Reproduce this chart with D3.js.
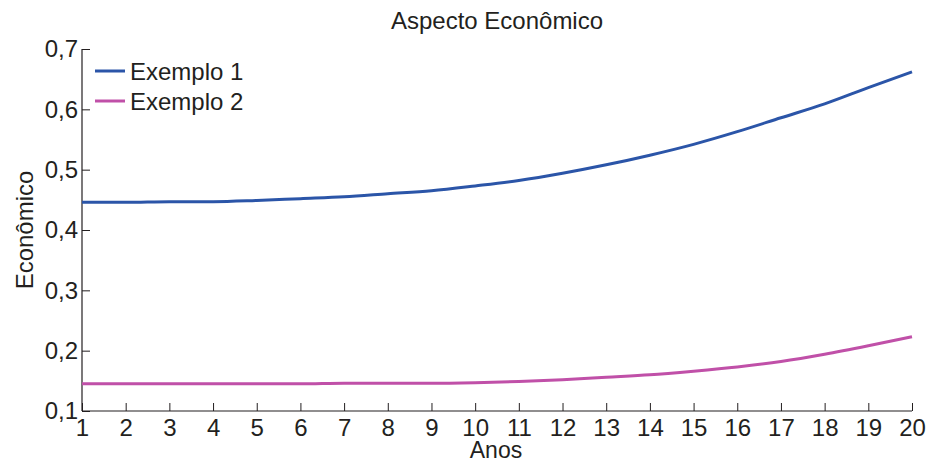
<!DOCTYPE html>
<html><head><meta charset="utf-8">
<script src="https://cdn.jsdelivr.net/npm/d3@7"></script>
<style>body{margin:0;background:#fff}svg{display:block}text{font-family:"Liberation Sans",Arial,sans-serif;fill:#231f20}</style>
</head><body><svg id="c" width="928" height="463"></svg>
<script>
const anos = [1,2,3,4,5,6,7,8,9,10,11,12,13,14,15,16,17,18,19,20];
const exemplo1 = [0.446,0.446,0.447,0.447,0.449,0.452,0.455,0.460,0.465,0.473,0.482,0.494,0.508,0.524,0.542,0.563,0.586,0.609,0.636,0.662];
const exemplo2 = [0.145,0.145,0.145,0.145,0.145,0.145,0.146,0.146,0.146,0.147,0.149,0.152,0.156,0.160,0.166,0.173,0.182,0.194,0.208,0.223];
const yTicks = [0.1,0.2,0.3,0.4,0.5,0.6,0.7];
const seriesNames = ["Exemplo 1","Exemplo 2"];
const colors = ["#2b55a8","#c050a8"];

const svg = d3.select("#c");
const x = d3.scaleLinear().domain([1,20]).range([82,912]);
const y = d3.scaleLinear().domain([0.1,0.7]).range([411,49]);
const fmt = d => d.toFixed(1).replace(".", ",");

const xa = svg.append("g").attr("transform","translate(0,411)")
  .call(d3.axisBottom(x).tickValues(anos).tickSize(-8).tickPadding(8).tickFormat(d3.format("d")));
const ya = svg.append("g").attr("transform","translate(82,0)")
  .call(d3.axisLeft(y).tickValues(yTicks).tickSize(-8).tickPadding(4).tickFormat(fmt));
[xa,ya].forEach(a=>{
  a.selectAll("path.domain").attr("stroke","#231f20").attr("stroke-width",1.2);
  a.selectAll(".tick line").attr("stroke","#231f20").attr("stroke-width",1);
  a.selectAll("text").attr("font-size",24).attr("font-family","Liberation Sans, Arial, sans-serif").attr("fill","#231f20");
});
xa.selectAll(".domain").attr("d","M82,0H912");
ya.selectAll(".domain").attr("d","M0,411V49");

const line = d3.line().x((d,i)=>x(anos[i])).y(d=>y(d)).curve(d3.curveMonotoneX);
[exemplo1,exemplo2].forEach((s,i)=>{
  svg.append("path").datum(s).attr("d",line).attr("fill","none")
    .attr("stroke",colors[i]).attr("stroke-width",3);
});

svg.append("text").attr("x",497).attr("y",29).attr("text-anchor","middle").attr("font-size",24).text("Aspecto Econômico");
svg.append("text").attr("x",496).attr("y",458).attr("text-anchor","middle").attr("font-size",23).text("Anos");
svg.append("text").attr("transform","translate(33,230) rotate(-90)").attr("text-anchor","middle").attr("font-size",24).text("Econômico");

seriesNames.forEach((n,i)=>{
  const yy = 71 + i*30;
  svg.append("line").attr("x1",95).attr("x2",125).attr("y1",yy).attr("y2",yy).attr("stroke",colors[i]).attr("stroke-width",3);
  svg.append("text").attr("x",130).attr("y",yy+9).attr("font-size",24).text(n);
});
</script></body></html>
